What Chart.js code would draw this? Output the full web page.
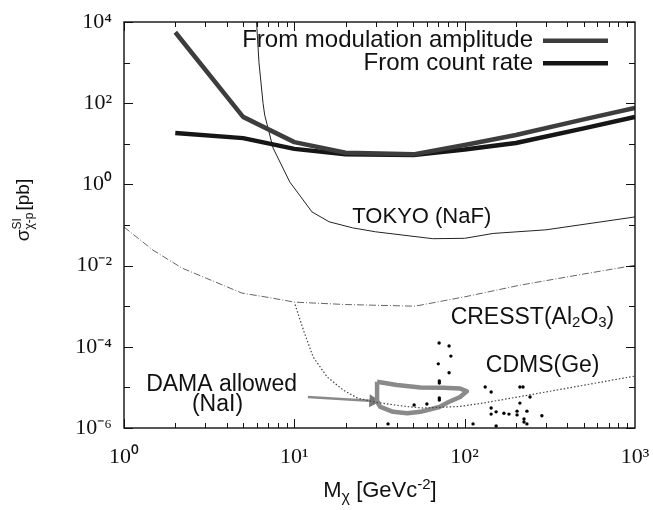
<!DOCTYPE html>
<html><head><meta charset="utf-8">
<script src="https://cdn.jsdelivr.net/npm/chart.js@4.4.1/dist/chart.umd.min.js"></script>
<style>html,body{margin:0;padding:0;background:#fff}#wrap{width:653px;height:510px}</style>
</head><body><div id="wrap"><canvas id="c" width="653" height="510"></canvas></div>
<script>
// ---- data (WIMP mass in GeV/c^2, cross section in pb) ----
const massModulation = [2, 5, 10, 20, 50, 100, 200, 500, 1000];
const sigmaModulation = [5600, 46, 11, 6, 5.5, 9.3, 16.5, 40, 76];
const massCount = [2, 5, 10, 20, 50, 100, 200, 500, 1000];
const sigmaCount = [18.5, 13.8, 7.5, 5.5, 5.3, 7.2, 10.5, 24, 46];
const massTokyo = [6.0, 6.2, 6.55, 6.7, 7.5, 9.4, 12.7, 16, 22, 30, 44, 65, 100, 147, 300, 1000];
const sigmaTokyo = [10000, 1000, 100, 51, 7.9, 1.15, 0.21, 0.12, 0.085, 0.068, 0.056, 0.046, 0.047, 0.062, 0.076, 0.158];
const massCresst = [1, 1.48, 2.19, 3, 4.93, 7, 10, 20, 51, 100, 212, 500, 1000];
const sigmaCresst = [0.089, 0.024, 0.0087, 0.005, 0.0021, 0.00165, 0.00126, 0.0011, 0.001, 0.0017, 0.0033, 0.0062, 0.0102];
const massCdms = [10.1, 11.3, 12.9, 15.6, 19.3, 23.4, 30, 45, 57, 94, 123, 200, 1000];
const sigmaCdms = [0.0011, 2.6e-4, 5.6e-5, 1.8e-5, 8.7e-6, 5.5e-6, 4.3e-6, 3.4e-6, 3.1e-6, 3.4e-6, 4.0e-6, 5.7e-6, 1.9e-5];
const massDama = [30.6, 40, 55, 75, 94, 103, 94, 80, 71, 55, 46, 38, 32, 30.6, 30.6];
const sigmaDama = [1.38e-5, 1.15e-5, 1.0e-5, 9.8e-6, 9.4e-6, 8.0e-6, 5.8e-6, 4.3e-6, 3.3e-6, 2.5e-6, 2.3e-6, 2.5e-6, 3.3e-6, 4.4e-6, 1.38e-5];
const massArrow = [12.0, 29];
const sigmaArrow = [5.8e-6, 4.6e-6];
const massEvents = [70.8, 81, 83, 70, 81, 71, 71, 81, 71, 71, 50.5, 60, 132, 143, 211, 220, 242, 211, 143, 153, 143, 170, 182, 203, 203, 232, 223, 223, 232, 284, 112, 153, 35.5];
const sigmaEvents = [1.24e-4, 1.05e-4, 5.9e-5, 3.8e-5, 2.3e-5, 1.44e-5, 1.28e-5, 9.7e-6, 5.5e-6, 4.9e-6, 3.7e-6, 3.9e-6, 1.02e-5, 7.7e-6, 1.02e-5, 1.02e-5, 5.8e-6, 4.1e-6, 3.1e-6, 2.5e-6, 2.2e-6, 2.3e-6, 2.2e-6, 2.6e-6, 2.1e-6, 2.6e-6, 1.67e-6, 1.41e-6, 1.26e-6, 2.0e-6, 1.26e-6, 1.12e-6, 1.26e-6];
const xTickValues = [1, 10, 100, 1000];
const yTickValues = [1e-6, 1e-4, 1e-2, 1, 1e2, 1e4];
const xTickLabels = ['10\u2070', '10\u00B9', '10\u00B2', '10\u00B3'];
const yTickLabels = ['10\u207B\u2076', '10\u207B\u2074', '10\u207B\u00B2', '10\u2070', '10\u00B2', '10\u2074'];
const seriesNames = ['From modulation amplitude', 'From count rate'];

function pts(xs, ys) { return xs.map((v, i) => ({ x: v, y: ys[i] })); }

const SANS = '"Liberation Sans", Arial, sans-serif';
const SERIF = '"Liberation Serif", "Times New Roman", serif';

function rich(ctx, segs, x, y, align) {
  let w = 0;
  segs.forEach(s => { ctx.font = s.size + 'px ' + SANS; s.w = ctx.measureText(s.t).width; w += s.w; });
  let cx = align === 'center' ? x - w / 2 : (align === 'right' ? x - w : x);
  segs.forEach(s => { ctx.font = s.size + 'px ' + SANS; ctx.fillText(s.t, cx, y + (s.dy || 0)); cx += s.w; });
}

const decor = {
  id: 'decor',
  afterDraw(chart) {
    const { ctx, chartArea: a, scales: { x, y } } = chart;
    ctx.save();
    ctx.strokeStyle = '#111'; ctx.lineWidth = 1.4;
    ctx.strokeRect(a.left, a.top, a.right - a.left, a.bottom - a.top);
    ctx.lineWidth = 1;
    ctx.beginPath();
    for (let k = 0; k < 3; k++) {
      for (let m = 1; m <= 9; m++) {
        const v = m * Math.pow(10, k);
        const px = Math.round(x.getPixelForValue(v)) + 0.5;
        const len = m === 1 ? 9 : 5;
        ctx.moveTo(px, a.bottom); ctx.lineTo(px, a.bottom - len);
        ctx.moveTo(px, a.top); ctx.lineTo(px, a.top + len);
      }
    }
    for (let e = -6; e <= 4; e++) {
      const py = Math.round(y.getPixelForValue(Math.pow(10, e))) + 0.5;
      const len = e % 2 === 0 ? 9 : 6;
      ctx.moveTo(a.left, py); ctx.lineTo(a.left + len, py);
      ctx.moveTo(a.right, py); ctx.lineTo(a.right - len, py);
    }
    ctx.stroke();

    // legend
    ctx.fillStyle = '#111'; ctx.textBaseline = 'middle'; ctx.textAlign = 'left';
    const ds = chart.data.datasets;
    [0, 1].forEach(i => {
      const ly = a.top + 18.7 + i * 22.6;
      rich(ctx, [{ t: ds[i].label, size: 24 }], a.right - 102, ly, 'right');
      ctx.strokeStyle = ds[i].borderColor; ctx.lineWidth = ds[i].borderWidth;
      ctx.beginPath(); ctx.moveTo(a.right - 92, ly); ctx.lineTo(a.right - 27, ly); ctx.stroke();
    });

    // annotations
    const P = (mx, sy) => [x.getPixelForValue(mx), y.getPixelForValue(sy)];
    let p = P(56, 0.158);
    rich(ctx, [{ t: 'TOKYO (NaF)', size: 22 }], p[0], p[1], 'center');
    p = P(250, 5.1e-4);
    rich(ctx, [{ t: 'CRESST(Al', size: 23 }, { t: '2', size: 15, dy: 5 }, { t: 'O', size: 23 }, { t: '3', size: 15, dy: 5 }, { t: ')', size: 23 }], p[0], p[1], 'center');
    p = P(287, 3.5e-5);
    rich(ctx, [{ t: 'CDMS(Ge)', size: 23 }], p[0], p[1], 'center');
    p = P(3.74, 1.15e-5);
    rich(ctx, [{ t: 'DAMA allowed', size: 23 }], p[0], p[1], 'center');
    p = P(3.54, 3.7e-6);
    rich(ctx, [{ t: '(NaI)', size: 23 }], p[0], p[1], 'center');

    // x axis title
    ctx.textBaseline = 'alphabetic';
    rich(ctx, [{ t: 'M', size: 22 }, { t: '\u03C7', size: 16, dy: 5 }, { t: ' [GeVc', size: 22 }, { t: '-2', size: 15, dy: -8 }, { t: ']', size: 22 }], 380, 497, 'center');

    // y axis title (rotated)
    ctx.translate(29, 210);
    ctx.rotate(-Math.PI / 2);
    ctx.textBaseline = 'alphabetic';
    ctx.font = '12px ' + SANS;
    const wSup = ctx.measureText('SI').width, wSub = ctx.measureText('\u03C7-p').width;
    ctx.font = '19px ' + SANS;
    const wSig = ctx.measureText('\u03C3').width, wPb = ctx.measureText('[pb]').width;
    const total = wSig + Math.max(wSup, wSub) + 2 + wPb;
    let cx = -total / 2;
    ctx.fillText('\u03C3', cx, 0); cx += wSig;
    ctx.font = '12px ' + SANS;
    ctx.fillText('SI', cx, -8); ctx.fillText('\u03C7-p', cx, 4);
    cx += Math.max(wSup, wSub) + 2;
    ctx.font = '19px ' + SANS;
    ctx.fillText('[pb]', cx, 0);
    ctx.restore();
  }
};

const lineBase = { showLine: true, pointRadius: 0, fill: false, tension: 0 };

new Chart(document.getElementById('c'), {
  type: 'scatter',
  data: {
    datasets: [
      Object.assign({ label: seriesNames[0], data: pts(massModulation, sigmaModulation), borderColor: '#3d3d3d', borderWidth: 4.5, borderJoinStyle: 'round' }, lineBase),
      Object.assign({ label: seriesNames[1], data: pts(massCount, sigmaCount), borderColor: '#161616', borderWidth: 4.5, borderJoinStyle: 'round' }, lineBase),
      Object.assign({ label: 'TOKYO (NaF)', data: pts(massTokyo, sigmaTokyo), borderColor: '#222', borderWidth: 1 }, lineBase),
      Object.assign({ label: 'CRESST', data: pts(massCresst, sigmaCresst), borderColor: '#666', borderWidth: 1, borderDash: [7, 2, 1, 2] }, lineBase),
      Object.assign({ label: 'CDMS', data: pts(massCdms, sigmaCdms), borderColor: '#444', borderWidth: 1.2, borderDash: [1.5, 2] }, lineBase),
      Object.assign({ label: 'DAMA', data: pts(massDama, sigmaDama), borderColor: '#8a8a8a', borderWidth: 4.5, borderJoinStyle: 'round' }, lineBase),
      Object.assign({ label: 'arrow', data: pts(massArrow, sigmaArrow), borderColor: '#8a8a8a', borderWidth: 2.5 }, lineBase,
        { pointRadius: [0, 5], pointStyle: 'triangle', pointRotation: 94, pointBackgroundColor: '#777', pointBorderColor: '#777' }),
      { label: 'events', data: pts(massEvents, sigmaEvents), showLine: false, pointRadius: 1.7, pointBackgroundColor: '#000', pointBorderWidth: 0 }
    ]
  },
  options: {
    responsive: false,
    animation: false,
    layout: { padding: { top: 22, right: 18, left: 0, bottom: 0 } },
    plugins: { legend: { display: false }, tooltip: { enabled: false } },
    scales: {
      x: {
        type: 'logarithmic', min: 1, max: 1000,
        afterBuildTicks: s => { s.ticks = xTickValues.map(v => ({ value: v })); },
        afterFit: s => { s.height = 82; s.paddingLeft = 0; s.paddingRight = 0; },
        grid: { display: false, drawTicks: false },
        border: { display: false },
        ticks: { autoSkip: false, maxRotation: 0, padding: 16, color: '#111', font: { family: SERIF, size: 22 },
          callback: v => xTickLabels[xTickValues.indexOf(v)] }
      },
      y: {
        type: 'logarithmic', min: 1e-6, max: 1e4,
        afterBuildTicks: s => { s.ticks = yTickValues.map(v => ({ value: v })); },
        afterFit: s => { s.width = 124; s.paddingTop = 0; s.paddingBottom = 0; },
        grid: { display: false, drawTicks: false },
        border: { display: false },
        ticks: { autoSkip: false, padding: 12, color: '#111', font: { family: SERIF, size: 22 },
          callback: v => { const i = yTickValues.findIndex(t => Math.abs(Math.log10(t) - Math.log10(v)) < 1e-6); return i >= 0 ? yTickLabels[i] : ''; } }
      }
    }
  },
  plugins: [decor]
});
</script></body></html>
